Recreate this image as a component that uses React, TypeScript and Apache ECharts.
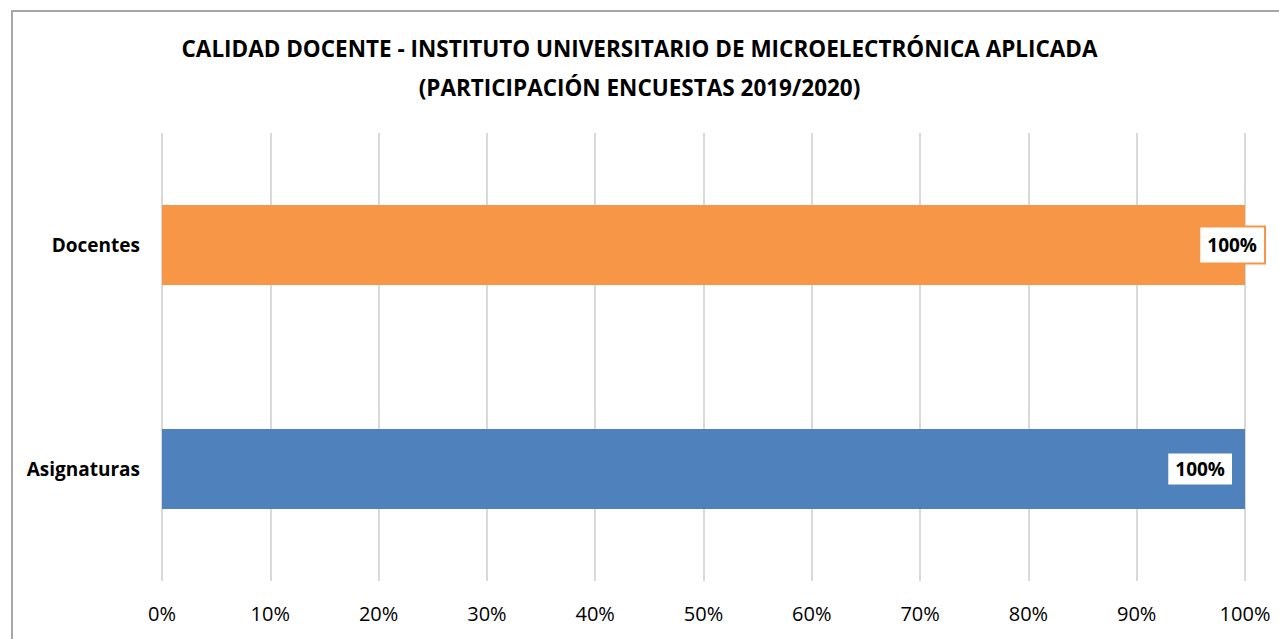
import React, { useEffect, useRef } from "react";
import * as echarts from "echarts";

const categories = ["Asignaturas", "Docentes"];
const values = [1, 1];
const barColors = ["#4F81BD", "#F79646"];
const titleLines = [
  "CALIDAD DOCENTE - INSTITUTO UNIVERSITARIO DE MICROELECTRÓNICA APLICADA",
  "(PARTICIPACIÓN ENCUESTAS 2019/2020)",
];
const FONT = "'Open Sans', 'Liberation Sans', sans-serif";

export default function App() {
  const ref = useRef<HTMLDivElement>(null);
  useEffect(() => {
    document.body.style.margin = "0";
    const chart = echarts.init(ref.current!, null, { renderer: "svg" });
    const labelOffsets = [-13, 19];
    chart.setOption({
      animation: false,
      backgroundColor: "#ffffff",
      title: {
        text: titleLines.join("\n"),
        left: "center",
        top: 24,
        textStyle: {
          fontFamily: FONT,
          fontSize: 22.5,
          fontWeight: "bold",
          color: "#000000",
          lineHeight: 39,
        },
      },
      grid: { left: 162, right: 34, top: 133, bottom: 58, containLabel: false },
      xAxis: {
        type: "value",
        min: 0,
        max: 1,
        interval: 0.1,
        axisLine: { show: false },
        axisTick: { show: false },
        splitLine: { show: true, lineStyle: { color: "#d9d9d9", width: 2 } },
        axisLabel: {
          formatter: (v: number) => Math.round(v * 100) + "%",
          fontFamily: FONT,
          fontSize: 20,
          color: "#000000",
          margin: 22,
        },
      },
      yAxis: {
        type: "category",
        data: categories,
        axisLine: { show: false },
        axisTick: { show: false },
        axisLabel: {
          fontFamily: FONT,
          fontSize: 19,
          fontWeight: "bold",
          color: "#000000",
          margin: 22,
        },
      },
      series: [
        {
          type: "bar",
          barWidth: 80,
          data: values.map((v, i) => ({
            value: v,
            itemStyle: { color: barColors[i] },
            label: {
              show: true,
              position: "insideRight",
              distance: 0,
              offset: [labelOffsets[i], 0],
              formatter: (p: any) => Math.round(p.value * 100) + "%",
              backgroundColor: "#ffffff",
              borderColor: barColors[i],
              borderWidth: 2,
              padding: i === 1 ? [9, 7, 7, 7] : [7, 7, 5, 7],
              fontFamily: FONT,
              fontSize: 19,
              fontWeight: "bold",
              color: "#000000",
            },
          })),
        },
      ],
      graphic: [
        {
          type: "polyline",
          shape: { points: [[12, 639], [12, 11], [1279, 11]] },
          style: { stroke: "#a6a6a6", lineWidth: 2, fill: "none" },
          silent: true,
        },
      ],
    });
    return () => chart.dispose();
  }, []);
  return (
    <div
      ref={ref}
      style={{ position: "fixed", left: 0, top: 0, width: 1279, height: 639 }}
    />
  );
}
